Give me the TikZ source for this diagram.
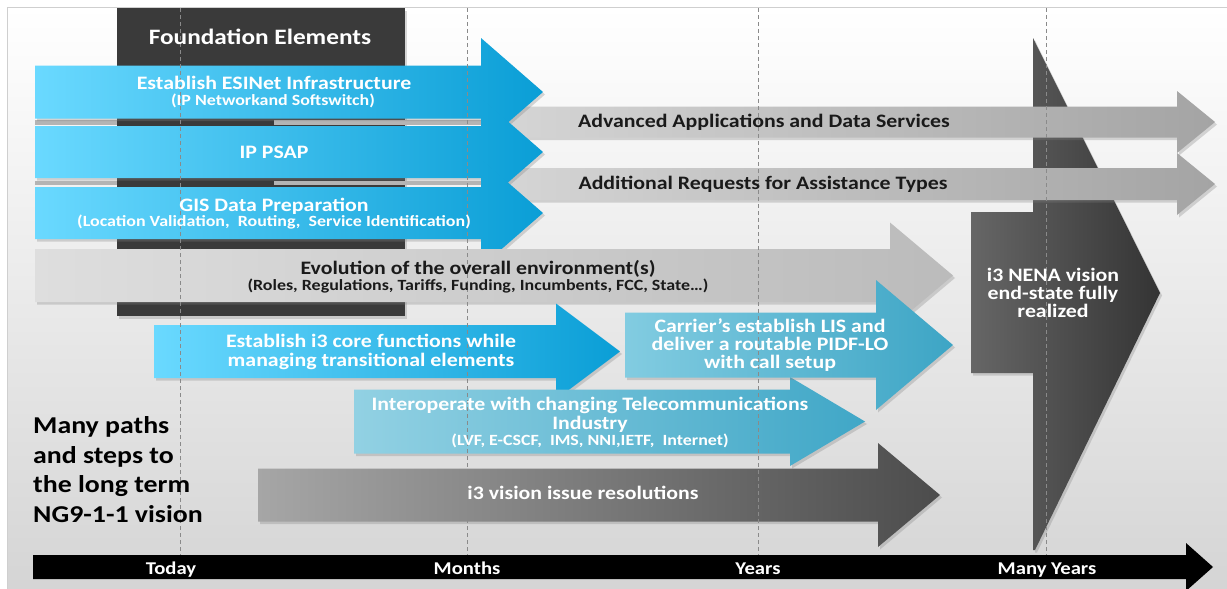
\documentclass[tikz,border=0pt]{standalone}
\usepackage{fontspec}
\setmainfont{Carlito}[FakeStretch=1.15]
\usetikzlibrary{shadows}
\definecolor{bgbot}{HTML}{D4D4D4}
\definecolor{framec}{HTML}{CFCFCF}
\definecolor{darkL}{HTML}{666666}
\definecolor{darkR}{HTML}{343434}
\definecolor{found}{HTML}{3A3A3A}
\definecolor{gapgray}{HTML}{B4B4B4}
\definecolor{blueL}{HTML}{6AD9FF}
\definecolor{blueR}{HTML}{0A9ED6}
\definecolor{carL}{HTML}{82CCE1}
\definecolor{carR}{HTML}{3DA5C5}
\definecolor{intL}{HTML}{92D1E3}
\definecolor{intR}{HTML}{40A7C7}
\definecolor{grL}{HTML}{D6D6D6}
\definecolor{grR}{HTML}{A4A4A4}
\definecolor{evL}{HTML}{DEDEDE}
\definecolor{evR}{HTML}{BBBBBB}
\definecolor{visL}{HTML}{A6A6A6}
\definecolor{visR}{HTML}{4C4C4C}
\definecolor{textdark}{HTML}{1A1A1A}
\definecolor{guidec}{HTML}{8A8A8A}
\newcommand\myarrow[7]{\path[#1] ({#2},{#5-#6}) -- ({#3},{#5-#6}) -- ({#3},{#5-#7}) -- ({#4},{#5}) -- ({#3},{#5+#7}) -- ({#3},{#5+#6}) -- ({#2},{#5+#6}) -- cycle;}
\tikzset{
  shad/.style={drop shadow={shadow xshift=2pt,shadow yshift=-2.5pt,opacity=0.3}},
  blueA/.style={shad,left color=blueL,right color=blueR},
  carA/.style={shad,left color=carL,right color=carR},
  intA/.style={shad,left color=intL,right color=intR},
  grayA/.style={shad,left color=grL,right color=grR},
  evoA/.style={shad,left color=evL,right color=evR},
  visA/.style={shad,left color=visL,right color=visR},
  timeA/.style={fill=black},
  guide/.style={draw=guidec,dash pattern=on 4pt off 3pt,line width=0.8pt},
  txt/.style={anchor=base,inner sep=0pt,font=\bfseries\fontsize{19}{21}\selectfont},
  wt/.style={txt,text=white},
  wts/.style={wt,font=\bfseries\fontsize{15.6}{17}\selectfont},
  dt/.style={txt,text=textdark},
  dts/.style={dt,font=\bfseries\fontsize{15.6}{17}\selectfont},
  fe/.style={wt,font=\bfseries\fontsize{22}{24}\selectfont},
  mp/.style={txt,text=black,anchor=base west,font=\bfseries\fontsize{24.2}{26}\selectfont},
  tl/.style={wt,font=\bfseries\fontsize{18}{20}\selectfont},
}
\begin{document}
\begin{tikzpicture}[x=1pt,y=-1pt]
\useasboundingbox (0,0) rectangle (1227,589);
% background panel
\path[top color=white,bottom color=bgbot,draw=framec,line width=0.8pt] (7,7) rectangle (1240,600);
% end-state shape
\path[shad,left color=darkL,right color=darkR] (1033,38) -- (1160,293) -- (1035,550) -- (1033,550) -- (1033,373) -- (971,373) -- (971,212) -- (1033,212) -- cycle;
% foundation block
\path[shad,fill=found] (117,8) rectangle (405,316);
\fill[gapgray] (35,119.5) rectangle (481,124.5);
\fill[found] (117,118) rectangle (274,126);
\fill[gapgray] (35,180.5) rectangle (481,185);
\fill[found] (117,178) rectangle (274,187);
% gray arrows
\myarrow{grayA}{490}{1177}{1215}{122}{15.5}{31}
\myarrow{grayA}{490}{1177}{1215}{184}{16}{31}
% blue foundation arrows
\myarrow{blueA}{35}{481}{543}{92}{26.5}{54}
\myarrow{blueA}{35}{481}{543}{152}{26}{54}
\myarrow{blueA}{35}{481}{543}{213}{26}{54}
% evolution
\myarrow{evoA}{35}{890}{953}{275.5}{26.5}{53}
% i3 core
\myarrow{blueA}{154}{556}{620}{351.5}{26.5}{48}
% interoperate
\myarrow{intA}{354}{790}{865}{421.5}{32}{44.5}
% carrier
\myarrow{carA}{625}{876}{953}{345}{32.5}{65}
% i3 vision issues
\myarrow{visA}{258}{878}{940}{495}{26.5}{52}
% guides
\draw[guide] (180,8) -- (180,555);
\draw[guide] (467,8) -- (467,555);
\draw[guide] (758,8) -- (758,555);
\draw[guide] (1046,8) -- (1046,555);
% timeline
\myarrow{timeA}{33}{1186}{1213}{567}{12}{24}
% texts
\node[fe] (found) at (260,44) {Foundation Elements};
\node[wt] (esi1) at (274,89) {Establish ESINet Infrastructure};
\node[wts] (esi2) at (273,105.5) {(IP Networkand Softswitch)};
\node[wt] (psap) at (274,158) {IP PSAP};
\node[wt] (gis1) at (274,211) {GIS Data Preparation};
\node[wts] (gis2) at (274,226) {(Location Validation,\ \ Routing,\ \ Service Identification)};
\node[dt] (adv) at (764,127) {Advanced Applications and Data Services};
\node[dt] (addl) at (763,189) {Additional Requests for Assistance Types};
\node[dt] (evo1) at (478,274) {Evolution of the overall environment(s)};
\node[dts] (evo2) at (478,290) {(Roles, Regulations, Tariffs, Funding, Incumbents, FCC, State…)};
\node[wt] (core1) at (371,347) {Establish i3 core functions while};
\node[wt] (core2) at (371,366) {managing transitional elements};
\node[wt] (car1) at (770,332) {Carrier’s establish LIS and};
\node[wt] (car2) at (770,350) {deliver a routable PIDF-LO};
\node[wt] (car3) at (770,368) {with call setup};
\node[wt] (int1) at (590,410) {Interoperate with changing Telecommunications};
\node[wt] (int2) at (590,429) {Industry};
\node[wts] (int3) at (590,445) {(LVF, E-CSCF,\ \ IMS, NNI,IETF,\ \ Internet)};
\node[wt] (vis) at (583,499) {i3 vision issue resolutions};
\node[wt] (nena1) at (1053,281) {i3 NENA vision};
\node[wt] (nena2) at (1053,299) {end-state fully};
\node[wt] (nena3) at (1053,317) {realized};
\node[mp] (mp1) at (33,433) {Many paths};
\node[mp] (mp2) at (33,463) {and steps to};
\node[mp] (mp3) at (33,492) {the long term};
\node[mp] (mp4) at (33,522) {NG9-1-1 vision};
\node[tl] (today) at (171,574) {Today};
\node[tl] (months) at (467,574) {Months};
\node[tl] (years) at (758,574) {Years};
\node[tl] (many) at (1047,574) {Many Years};
\end{tikzpicture}
\end{document}
